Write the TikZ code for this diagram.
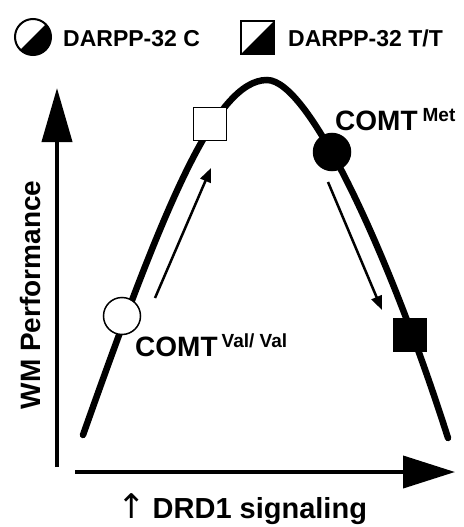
\documentclass[tikz,border=0pt]{standalone}
\usepackage{fontspec}
\setmainfont{Liberation Sans}
\newfontfamily\symfont{DejaVu Sans}
\usetikzlibrary{arrows.meta}
\begin{document}
\begin{tikzpicture}[x=1pt,y=1pt,
  marker/.style={draw,line width=1.5pt,inner sep=0pt},
  dot/.style={marker,circle,minimum size=37pt},
  box/.style={marker,rectangle,minimum size=33pt},
  lbl/.style={anchor=base west,inner sep=0pt,font=\bfseries\fontsize{28}{28}\selectfont},
  drift/.style={->,line width=2.5pt,>={Triangle[length=14pt,width=11pt]}}]
\def\supt#1{\raisebox{8.5pt}{\fontsize{19}{19}\selectfont #1}}
\useasboundingbox (0,0) rectangle (463,-527);
% axes
\draw[line width=4pt,-{Triangle[length=54pt,width=30pt]}] (57,-467) -- (57,-88);
\draw[line width=4pt,-{Triangle[length=52pt,width=32pt]}] (75,-472) -- (455,-472);
\node[rotate=90,font=\bfseries\fontsize{28}{28}\selectfont] (yl) at (30,-295) {WM Performance};
\node[lbl] (xl) at (117,-518) {{\symfont\mdseries\fontsize{34}{34}\selectfont ↑}\hspace{7pt}{\fontsize{29}{29}\selectfont DRD1 signaling}};
% inverted U
\draw[line width=6.5pt,line cap=round] (83,-435) .. controls (163,-209) and (215,-80) .. (267,-80)
  .. controls (310,-80) and (391,-259) .. (448,-438);
% markers
\node[dot,fill=white] (cVal) at (122,-316) {};
\node[box,fill=white] (tVal) at (210,-124) {};
\node[dot,fill=black] (cMet) at (332,-152) {};
\node[box,fill=black] (tMet) at (410,-335) {};
\coordinate (upS) at (155,-298);
\coordinate (upE) at (211,-168);
\coordinate (dnS) at (328,-182);
\coordinate (dnE) at (382,-310);
\draw[drift] (upS) -- (upE);
\draw[drift] (dnS) -- (dnE);
\node[lbl] (vv) at (135,-356) {COMT\hspace{4pt}\supt{Val/ Val}};
\node[lbl] (mt) at (335,-130) {COMT\hspace{5pt}\supt{Met}};
% legend
\fill (33,-37) ++(45:18) arc[start angle=45,end angle=-135,radius=18] -- cycle;
\draw[line width=2pt] (33,-37) circle (18);
\fill (241,-54) -- (274,-54) -- (274,-21) -- cycle;
\draw[line width=1.5pt] (241,-54) rectangle (274,-21);
\node[lbl,font=\bfseries\fontsize{23}{23}\selectfont] (lgC) at (63,-47) {DARPP-32 C};
\node[lbl,font=\bfseries\fontsize{23}{23}\selectfont] (lgT) at (288,-47) {DARPP-32 T/T};
\end{tikzpicture}
\end{document}
